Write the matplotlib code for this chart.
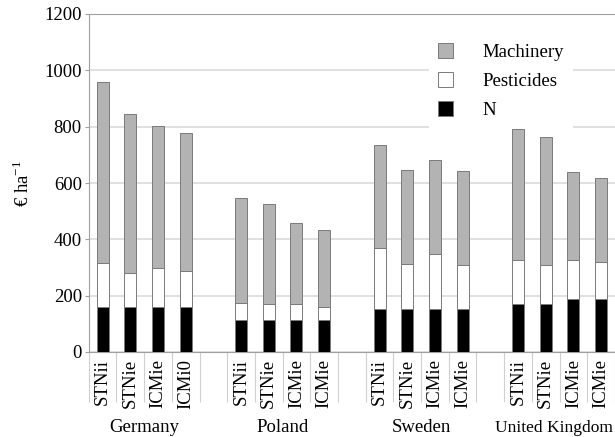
import numpy as np
import matplotlib.pyplot as plt
from matplotlib.patches import Patch

plt.rcParams['font.family'] = ['Liberation Serif', 'DejaVu Serif']
plt.rcParams['mathtext.fontset'] = 'custom'
plt.rcParams['mathtext.rm'] = 'Liberation Serif'

# costs per hectare, one list per cost item, four systems per country
countries = ["Germany", "Poland", "Sweden", "United Kingdom"]
systems = [["STNii", "STNie", "ICMie", "ICMi0"],
           ["STNii", "STNie", "ICMie", "ICMie"],
           ["STNii", "STNie", "ICMie", "ICMie"],
           ["STNii", "STNie", "ICMie", "ICMie"]]
n_cost = [160, 160, 160, 160,
          115, 115, 115, 115,
          151, 151, 151, 151,
          171, 171, 188, 188]
pesticides = [155, 119, 137, 127,
              59, 54, 54, 45,
              218, 160, 196, 158,
              157, 139, 138, 131]
machinery = [643, 567, 507, 491,
             371, 356, 290, 274,
             367, 335, 333, 334,
             462, 452, 313, 298]

# slot positions: 4 bars per country, one empty slot between countries
pos = []
labels = []
for g in range(len(countries)):
    for j in range(4):
        pos.append(g * 5 + j)
        labels.append(systems[g][j])
pos = np.array(pos)
n_cost = np.array(n_cost)
pesticides = np.array(pesticides)
machinery = np.array(machinery)

edge = '#7a7a7a'
fig = plt.figure(figsize=(6.15, 4.37), dpi=100)
ax = fig.add_axes([88.7 / 615, 85 / 437, 1 - 88.7 / 615, 338 / 437])

w = 0.43
ax.bar(pos, n_cost, w, color='black', edgecolor=edge, linewidth=0.7, zorder=3)
ax.bar(pos, pesticides, w, bottom=n_cost, color='white', edgecolor=edge,
       linewidth=0.7, zorder=3)
ax.bar(pos, machinery, w, bottom=n_cost + pesticides, color='#b3b3b3',
       edgecolor=edge, linewidth=0.7, zorder=3)

ax.set_xlim(-0.5, 18.5)
ax.set_ylim(0, 1200)
ax.set_yticks(range(0, 1201, 200))
ax.tick_params(axis='y', labelsize=13.5, length=3, color='#a0a0a0', pad=2)
ax.yaxis.grid(True, color='#dedede', linewidth=1.3, zorder=0)

ax.set_xticks(pos)
ax.set_xticklabels(labels, rotation=90, fontsize=13.5)
ax.tick_params(axis='x', length=0, pad=5)
ax.set_xticks(np.arange(-0.5, 19, 1.0), minor=True)
ax.tick_params(axis='x', which='minor', length=36, color='#d0d0d0', width=0.8)

for s in ['left', 'top', 'bottom']:
    ax.spines[s].set_color('#a0a0a0')
ax.spines['right'].set_visible(False)

ax.set_ylabel("€ ha$^{\\mathregular{-1}}$", fontsize=13.5, labelpad=8)

# country names under each group
for g, name in enumerate(countries):
    cx = g * 5 + 1.5
    fs = 13.5
    if g == 3:
        fs = 12.5
        cx -= 0.2
    ax.text(cx, -76 / 338, name, transform=ax.get_xaxis_transform(),
            ha='center', va='center', fontsize=fs)

handles = [Patch(facecolor='#b3b3b3', edgecolor=edge, linewidth=0.7),
           Patch(facecolor='white', edgecolor=edge, linewidth=0.7),
           Patch(facecolor='black', edgecolor=edge, linewidth=0.7)]
fig.legend(handles, ["Machinery", "Pesticides", "N"], loc='upper left',
           bbox_to_anchor=(429 / 615, 1 - 34 / 437), borderaxespad=0,
           borderpad=0.5, fontsize=13.5, handlelength=0.8, handleheight=0.8,
           handletextpad=1.55, labelspacing=0.6, frameon=True,
           facecolor='white', edgecolor='none', framealpha=1, fancybox=False)

fig.savefig('out.png', dpi=100)
